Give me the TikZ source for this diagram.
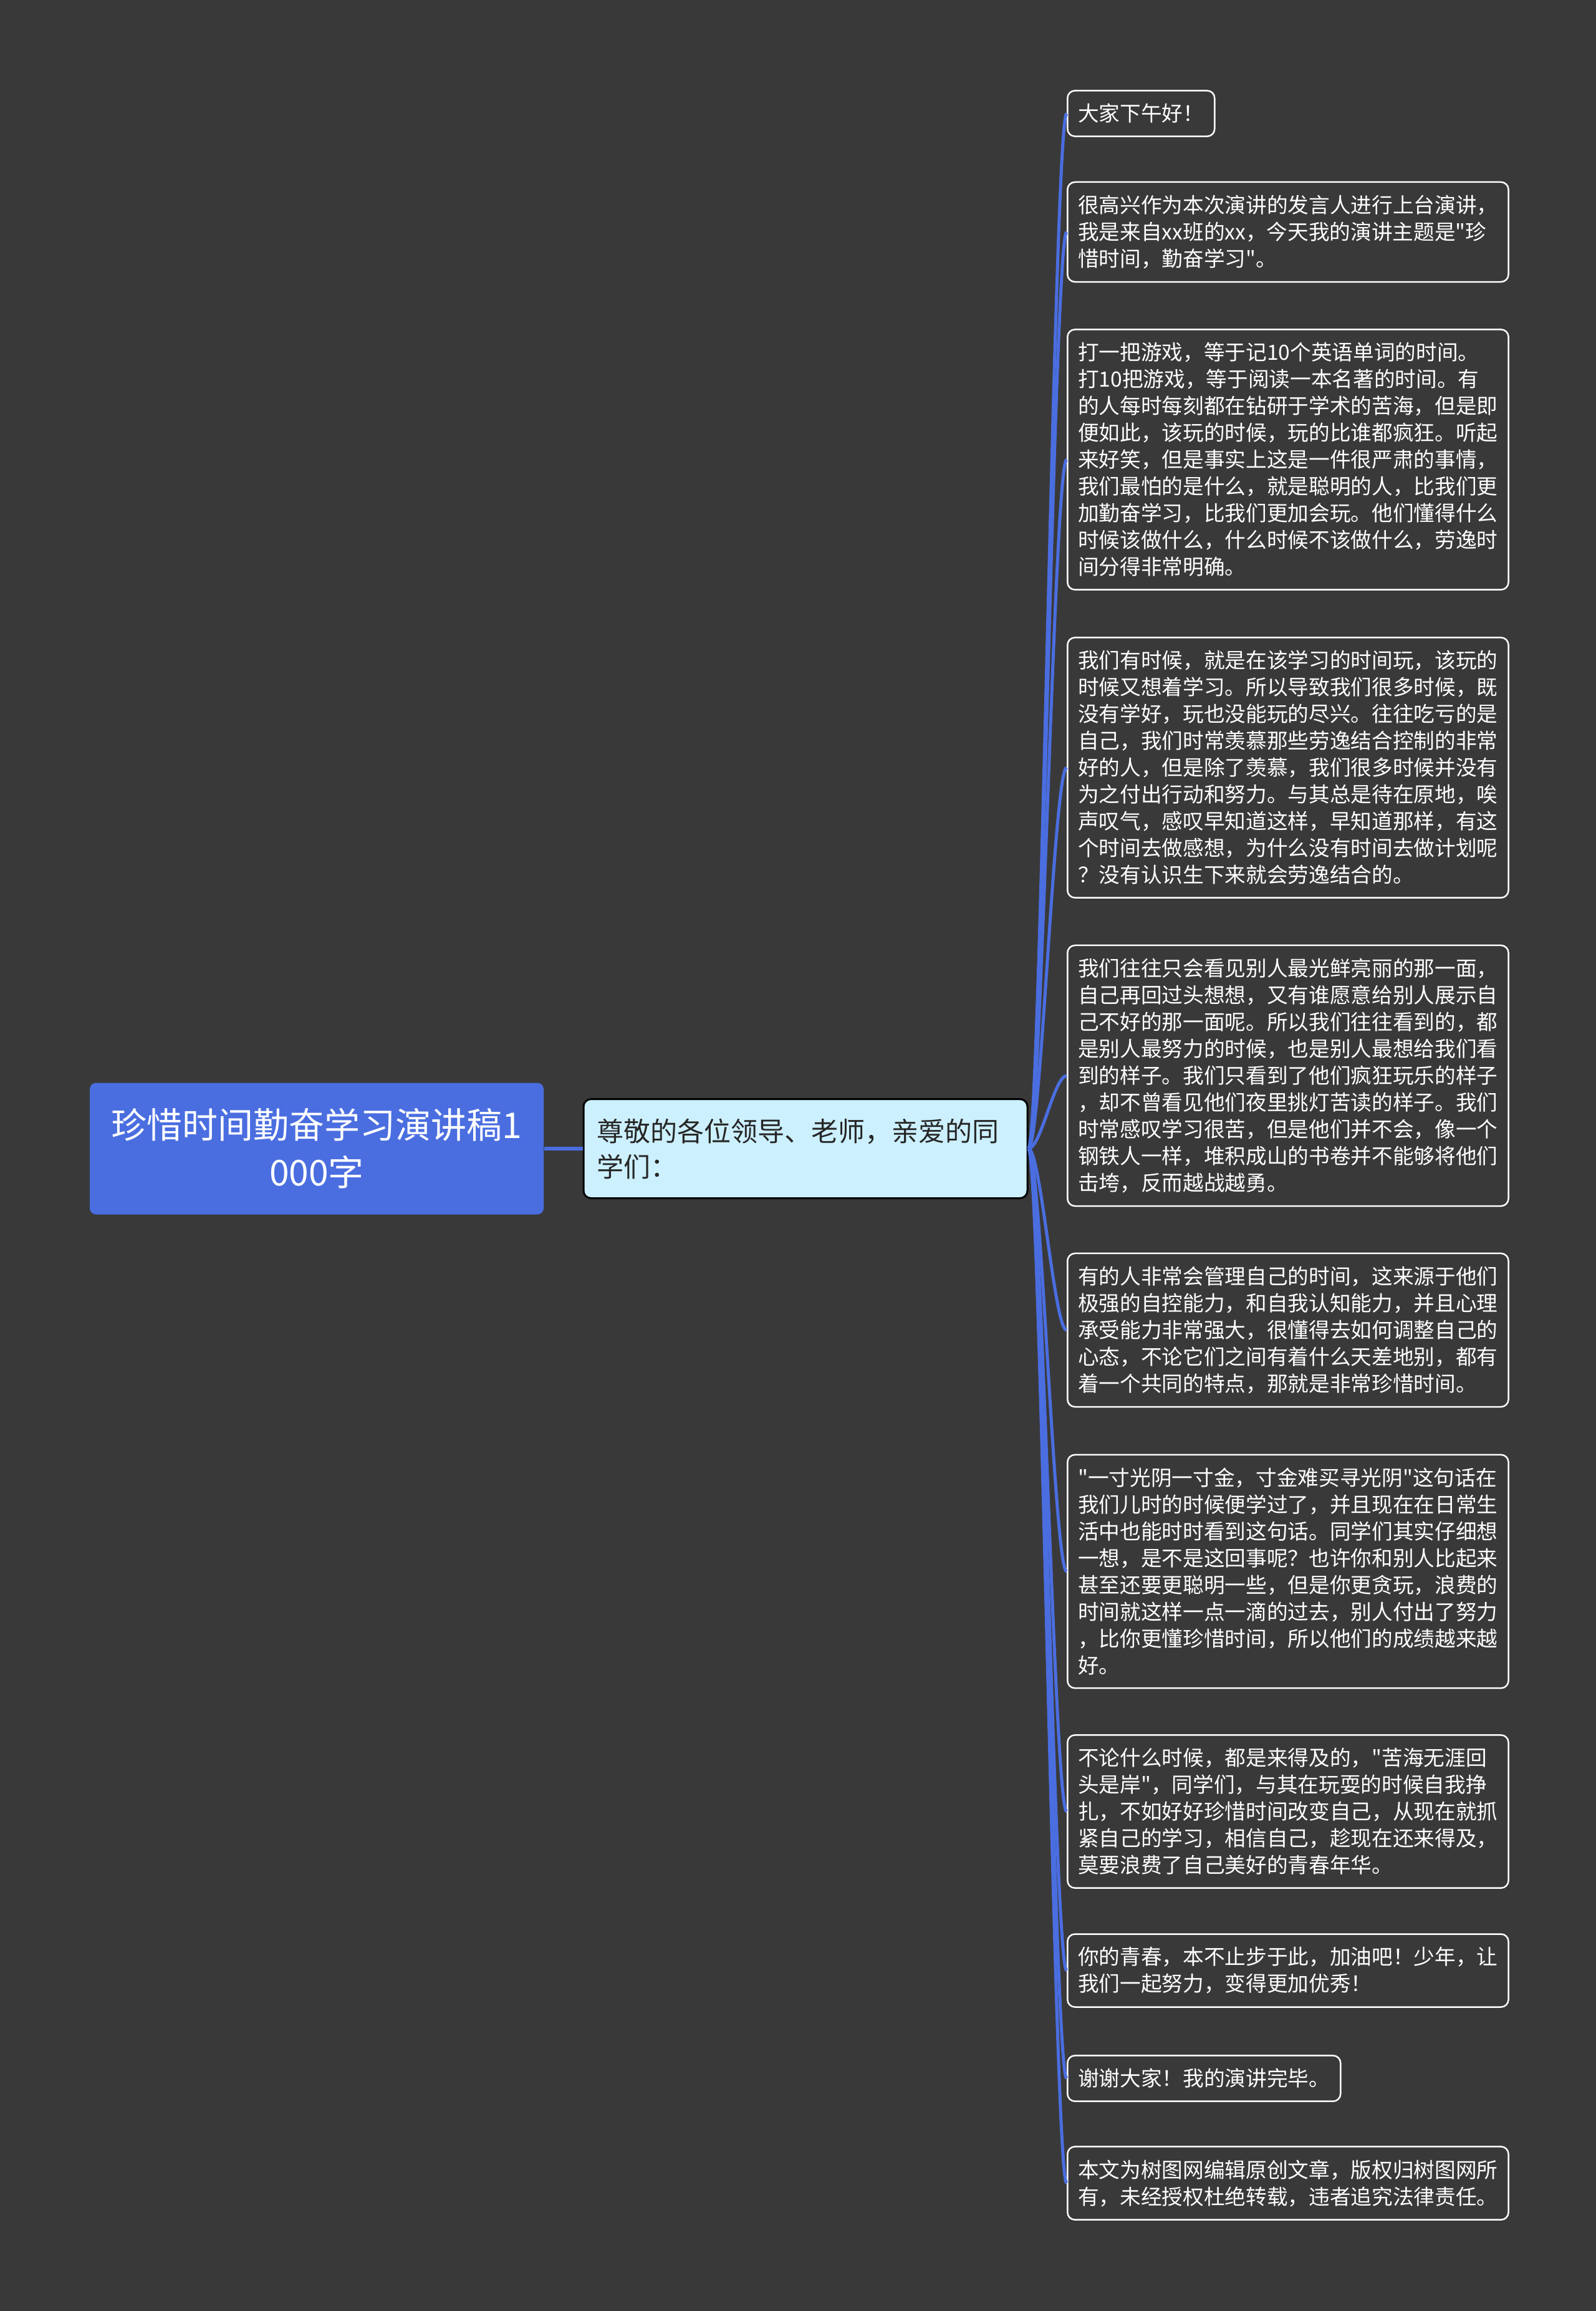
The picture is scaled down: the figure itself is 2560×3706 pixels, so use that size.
\documentclass[tikz,border=0pt]{standalone}
\usepackage{fontspec}
\setmainfont{Noto Sans CJK SC}[Ligatures=TeXOff]
\usetikzlibrary{calc}

\definecolor{bgcol}{HTML}{3A393A}
\definecolor{rootblue}{HTML}{4A6EE0}
\definecolor{midcyan}{HTML}{CCF0FE}

\tikzset{
  rootbox/.style={rectangle, rounded corners=3pt, fill=rootblue, text=white, align=center,
    minimum width=218.4pt, minimum height=63.3pt, inner sep=0pt,
    font=\fontsize{17.1pt}{22.8pt}\selectfont},
  midbox/.style={rectangle, rounded corners=3.6pt, fill=midcyan, draw=black, line width=0.9pt,
    text=black!85, text width=201pt, align=left, inner xsep=6.3pt, inner ysep=0pt,
    minimum height=47.7pt, font=\fontsize{12.9pt}{17.1pt}\selectfont},
  leafbox/.style={rectangle, rounded corners=3.6pt, draw=white, line width=0.75pt, fill=bgcol,
    text=white, align=left, inner xsep=5.1pt, inner ysep=6.3pt, anchor=west,
    font=\fontsize{10.1pt}{12.9pt}\selectfont},
  link/.style={rootblue, line width=1.5pt}
}

\begin{document}
\begin{tikzpicture}[x=0.3pt, y=-0.3pt]

    \fill [bgcol] (0,0) rectangle (2560,3706);
    \useasboundingbox (0,0) rectangle (2560,3706);

    \node [rootbox] (R) at (508,1842) {珍惜时间勤奋学习演讲稿1\\000字};
    \node [midbox] (M) at (1292,1842) {尊敬的各位领导、老师，亲爱的同\\学们：};

    \node [leafbox] (L1) at (1711,182) {大家下午好！};
    \node [leafbox] (L2) at (1711,372) {很高兴作为本次演讲的发言人进行上台演讲，\\我是来自xx班的xx，今天我的演讲主题是"珍\\惜时间，勤奋学习"。};
    \node [leafbox] (L3) at (1711,737) {打一把游戏，等于记10个英语单词的时间。\\打10把游戏，等于阅读一本名著的时间。有\\的人每时每刻都在钻研于学术的苦海，但是即\\便如此，该玩的时候，玩的比谁都疯狂。听起\\来好笑，但是事实上这是一件很严肃的事情，\\我们最怕的是什么，就是聪明的人，比我们更\\加勤奋学习，比我们更加会玩。他们懂得什么\\时候该做什么，什么时候不该做什么，劳逸时\\间分得非常明确。};
    \node [leafbox] (L4) at (1711,1231) {我们有时候，就是在该学习的时间玩，该玩的\\时候又想着学习。所以导致我们很多时候，既\\没有学好，玩也没能玩的尽兴。往往吃亏的是\\自己，我们时常羡慕那些劳逸结合控制的非常\\好的人，但是除了羡慕，我们很多时候并没有\\为之付出行动和努力。与其总是待在原地，唉\\声叹气，感叹早知道这样，早知道那样，有这\\个时间去做感想，为什么没有时间去做计划呢\\？没有认识生下来就会劳逸结合的。};
    \node [leafbox] (L5) at (1711,1725) {我们往往只会看见别人最光鲜亮丽的那一面，\\自己再回过头想想，又有谁愿意给别人展示自\\己不好的那一面呢。所以我们往往看到的，都\\是别人最努力的时候，也是别人最想给我们看\\到的样子。我们只看到了他们疯狂玩乐的样子\\，却不曾看见他们夜里挑灯苦读的样子。我们\\时常感叹学习很苦，但是他们并不会，像一个\\钢铁人一样，堆积成山的书卷并不能够将他们\\击垮，反而越战越勇。};
    \node [leafbox] (L6) at (1711,2133) {有的人非常会管理自己的时间，这来源于他们\\极强的自控能力，和自我认知能力，并且心理\\承受能力非常强大，很懂得去如何调整自己的\\心态，不论它们之间有着什么天差地别，都有\\着一个共同的特点，那就是非常珍惜时间。};
    \node [leafbox] (L7) at (1711,2520) {"一寸光阴一寸金，寸金难买寻光阴"这句话在\\我们儿时的时候便学过了，并且现在在日常生\\活中也能时时看到这句话。同学们其实仔细想\\一想，是不是这回事呢？也许你和别人比起来\\甚至还要更聪明一些，但是你更贪玩，浪费的\\时间就这样一点一滴的过去，别人付出了努力\\，比你更懂珍惜时间，所以他们的成绩越来越\\好。};
    \node [leafbox] (L8) at (1711,2905) {不论什么时候，都是来得及的，"苦海无涯回\\头是岸"，同学们，与其在玩耍的时候自我挣\\扎，不如好好珍惜时间改变自己，从现在就抓\\紧自己的学习，相信自己，趁现在还来得及，\\莫要浪费了自己美好的青春年华。};
    \node [leafbox] (L9) at (1711,3160) {你的青春，本不止步于此，加油吧！少年，让\\我们一起努力，变得更加优秀！};
    \node [leafbox] (L10) at (1711,3333) {谢谢大家！我的演讲完毕。};
    \node [leafbox] (L11) at (1711,3501) {本文为树图网编辑原创文章，版权归树图网所\\有，未经授权杜绝转载，违者追究法律责任。};

    \draw [link, line width=1.8pt] (R.east) -- (M.west);

    \foreach \i in {1,...,11}
        \draw [link] (M.east) .. controls +(20,0) and +(-20,0) .. (L\i.west);

\end{tikzpicture}
\end{document}
